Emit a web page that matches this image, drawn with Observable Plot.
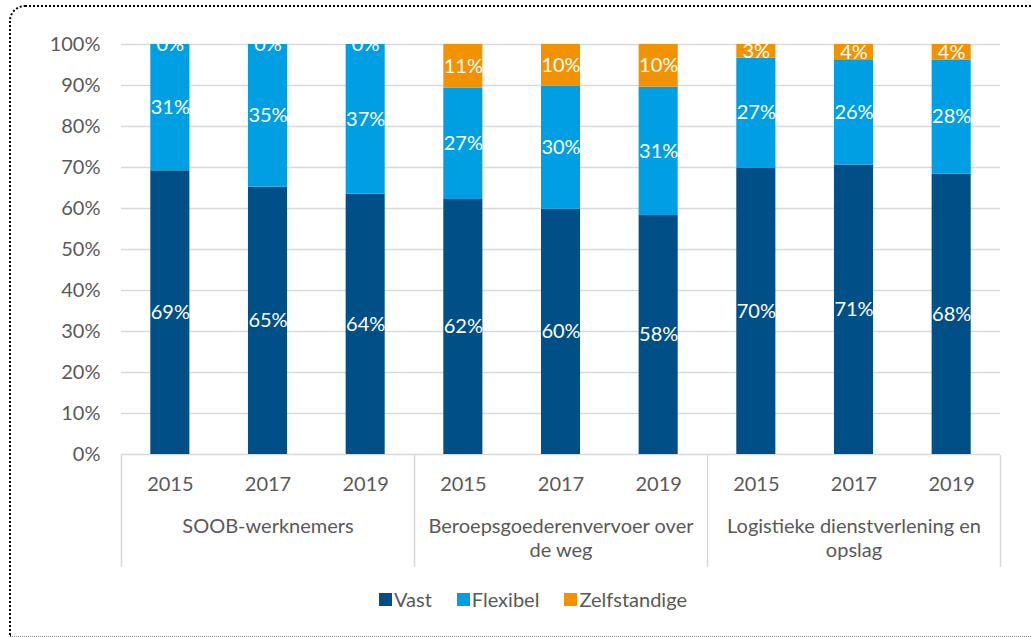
<!DOCTYPE html>
<html><head><meta charset="utf-8">
<script src="https://cdn.jsdelivr.net/npm/d3@7"></script>
<script src="https://cdn.jsdelivr.net/npm/@observablehq/plot@0.6"></script>
<style>
html,body{margin:0;padding:0;background:#fff;}
body{width:1031px;height:637px;position:relative;overflow:hidden;font-family:Lato, "Open Sans", sans-serif;}
#frame{position:absolute;left:9px;top:5px;width:1040px;height:632px;border-top:2.5px dotted #000;border-left:2.5px dotted #000;border-bottom:1px dotted #888;border-top-left-radius:16px;box-sizing:border-box;}
#chart{position:absolute;left:0;top:0;}
#chart svg{display:block;}
#legend{position:absolute;top:587px;left:379px;display:flex;align-items:center;font-size:20px;color:#595959;font-family:Lato, sans-serif;}
#legend .item{display:flex;align-items:center;margin-right:25px;}
#legend .sw{width:13px;height:13px;margin-right:2px;}
</style></head><body>
<div id="frame"></div>
<div id="chart"></div>
<div id="legend"></div>
<script>
const groups = ["SOOB-werknemers", "Beroepsgoederenvervoer over de weg", "Logistieke dienstverlening en opslag"];
const groupLabels = ["SOOB-werknemers", "Beroepsgoederenvervoer over\nde weg", "Logistieke dienstverlening en\nopslag"];
const years = ["2015", "2017", "2019"];
const series = ["Vast", "Flexibel", "Zelfstandige"];
const vast = [69.2, 65.2, 63.5, 62.2, 59.8, 58.3, 69.9, 70.6, 68.4];
const flexibel = [30.8, 34.8, 36.5, 27.1, 30.0, 31.3, 26.8, 25.5, 27.8];
const zelfstandige = [0, 0, 0, 10.7, 10.2, 10.4, 3.3, 3.9, 3.8];
const colors = ["#004f86", "#009fe3", "#f39200"];
const yTicks = [0, 10, 20, 30, 40, 50, 60, 70, 80, 90, 100];

const seriesValues = [vast, flexibel, zelfstandige];
const cats = [];
groups.forEach((g, gi) => years.forEach((y, yi) => cats.push({i: gi * years.length + yi, group: g, year: y, gi})));
const data = [];
cats.forEach(c => series.forEach((s, si) => data.push({i: c.i, series: s, value: seriesValues[si][c.i]})));

const W = 1031, ML = 121, MR = 31;
const font = "Lato, 'Open Sans', sans-serif";

const main = Plot.plot({
  width: W, height: 455, marginTop: 44, marginBottom: 1, marginLeft: ML, marginRight: MR,
  style: {fontFamily: font, fontSize: "20px", color: "#595959", background: "transparent", overflow: "visible"},
  x: {type: "band", domain: cats.map(c => c.i), paddingInner: 0.6, paddingOuter: 0.3, round: false, axis: null},
  y: {domain: [0, 100], axis: null},
  color: {domain: series, range: colors},
  marks: [
    Plot.ruleY(yTicks, {stroke: "#d9d9d9", strokeWidth: 1.5}),
    Plot.axisY({ticks: yTicks, tickSize: 0, tickPadding: 21, tickFormat: d => d + "%", fontSize: 20, label: null}),
    Plot.barY(data, {x: "i", y: "value", fill: "series", order: series}),
    Plot.text(data, Plot.stackY({x: "i", y: "value", z: "series", order: series, text: d => Math.round(d.value) + "%", fill: "white", fontSize: 20}))
  ]
});

const catAxis = Plot.plot({
  width: W, height: 112, marginTop: 0, marginBottom: 0, marginLeft: ML, marginRight: MR,
  style: {fontFamily: font, fontSize: "20px", color: "#595959", background: "transparent", overflow: "visible"},
  x: {domain: [0, cats.length], axis: null},
  y: {axis: null},
  marks: [
    Plot.ruleX(d3.range(groups.length + 1).map(g => g * years.length), {stroke: "#d9d9d9", strokeWidth: 1.5}),
    Plot.text(cats, {x: c => c.i + 0.5, text: "year", frameAnchor: "top", lineAnchor: "middle", dy: 29, fill: "#595959", fontSize: 20}),
    Plot.text(groupLabels, {x: (d, gi) => gi * years.length + years.length / 2, text: d => d, frameAnchor: "top", lineAnchor: "top", dy: 60, lineHeight: 1.22, fill: "#595959", fontSize: 20})
  ]
});

const chart = document.getElementById("chart");
chart.appendChild(main);
chart.appendChild(catAxis);

const legend = document.getElementById("legend");
series.forEach((s, si) => {
  const it = document.createElement("div");
  it.className = "item";
  it.innerHTML = `<span class="sw" style="background:${colors[si]}"></span><span>${s}</span>`;
  legend.appendChild(it);
});
</script>
</body></html>
